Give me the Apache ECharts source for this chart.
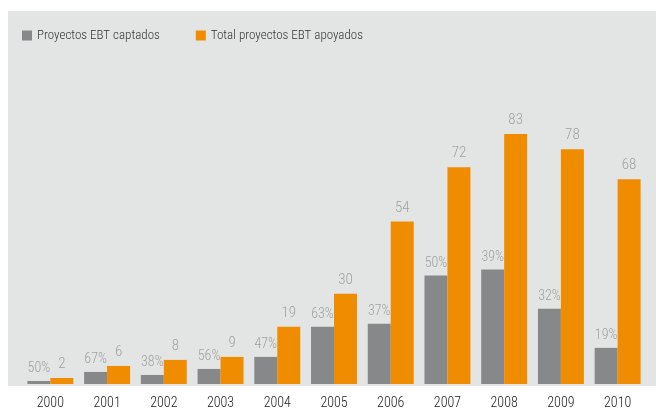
<!DOCTYPE html>
<html>
<head>
<meta charset="utf-8">
<script src="https://cdn.jsdelivr.net/npm/echarts@6/dist/echarts.min.js"></script>
<style>
  html, body { margin: 0; padding: 0; background: #fff; }
  #chart { width: 656px; height: 410px; }
</style>
</head>
<body>
<div id="chart"></div>
<script>
const years = ['2000', '2001', '2002', '2003', '2004', '2005', '2006', '2007', '2008', '2009', '2010']
const captados = [1, 4, 3, 5, 9, 19, 20, 36, 38, 25, 12]
const captadosPct = ['50%', '67%', '38%', '56%', '47%', '63%', '37%', '50%', '39%', '32%', '19%']
const apoyados = [2, 6, 8, 9, 19, 30, 54, 72, 83, 78, 68]

const FONT = '"Roboto Condensed", "Liberation Sans Narrow", sans-serif'
const chart = echarts.init(document.getElementById('chart'))

chart.setOption({
  animation: false,
  backgroundColor: '#fff',
  textStyle: { fontFamily: FONT },
  graphic: [{
    type: 'rect',
    left: 8,
    top: 11,
    z: -10,
    shape: { width: 648, height: 375 },
    style: { fill: '#e3e4e4' },
  }],
  legend: {
    left: 22,
    top: 29,
    padding: 0,
    itemWidth: 10,
    itemHeight: 10,
    itemGap: 36,
    icon: 'rect',
    textStyle: { fontFamily: FONT, fontSize: 13, fontWeight: 300, color: '#333' },
    data: ['Proyectos EBT captados', 'Total proyectos EBT apoyados'],
  },
  grid: { left: 22, right: 10, top: 113, bottom: 24 },
  xAxis: {
    type: 'category',
    data: years,
    axisLine: { show: false },
    axisTick: { show: false },
    axisLabel: { color: '#222', fontSize: 14, fontWeight: 300, fontFamily: FONT, margin: 12 },
  },
  yAxis: {
    type: 'value',
    min: 0,
    max: 90,
    show: false,
    splitLine: { show: false },
  },
  series: [
    {
      name: 'Proyectos EBT captados',
      type: 'bar',
      data: captados,
      barGap: 0,
      barCategoryGap: '19%',
      itemStyle: { color: '#878889' },
      label: {
        show: true,
        position: 'top',
        distance: 5,
        color: '#a0a1a2',
        fontSize: 14,
        fontWeight: 300,
        fontFamily: FONT,
        formatter: p => captadosPct[p.dataIndex],
      },
    },
    {
      name: 'Total proyectos EBT apoyados',
      type: 'bar',
      data: apoyados,
      itemStyle: { color: '#f08c00' },
      label: {
        show: true,
        position: 'top',
        distance: 6,
        color: '#a0a1a2',
        fontSize: 15,
        fontWeight: 300,
        fontFamily: FONT,
      },
    },
  ],
})
</script>
</body>
</html>
